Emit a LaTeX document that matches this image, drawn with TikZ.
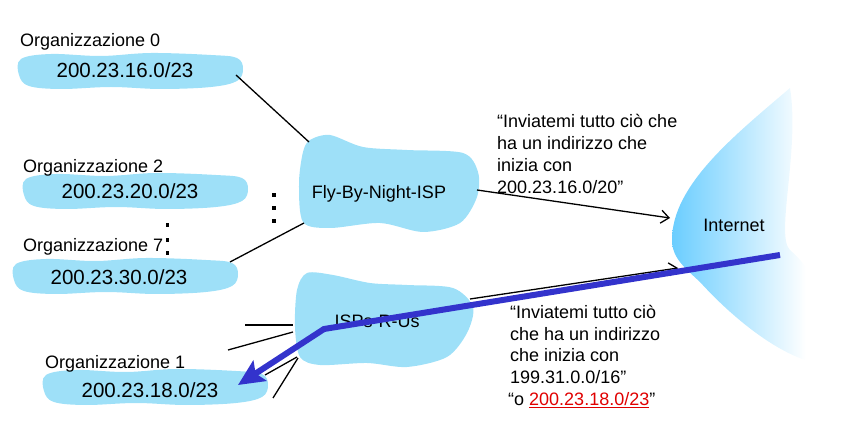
\documentclass[tikz,border=0pt]{standalone}
\usepackage{fontspec}
\setmainfont{Liberation Sans}
\usetikzlibrary{arrows.meta}
\definecolor{blobblue}{RGB}{158,224,248}
\definecolor{netblue}{RGB}{102,204,255}
\definecolor{routeblue}{RGB}{51,51,204}
\definecolor{ispred}{RGB}{224,0,0}
\tikzset{
  blob/.style={fill=blobblue, draw=none},
  orgpatch/.pic={\fill[blob] plot[smooth cycle, tension=0.6] coordinates {(-110,-12) (-80,-17) (-30,-15) (20,-18) (80,-16) (106,-13) (112,-2) (106,10) (80,16) (30,18) (-20,16) (-70,18) (-102,15) (-112,4)};},
  lbl/.style={font=\fontsize{18}{22}\selectfont, inner sep=0pt},
  addr/.style={font=\fontsize{20.5}{24}\selectfont, inner sep=0pt, anchor=base},
  link/.style={black, line width=1.3pt},
}
\begin{document}
\begin{tikzpicture}[x=1pt,y=-1pt]
                \useasboundingbox (0,0) rectangle (857,430);
                % organisations
                \pic at (131,71) {orgpatch};
                \pic at (136,191) {orgpatch};
                \pic at (126,276) {orgpatch};
                \pic at (156,387) {orgpatch};
                % ISPs
                \fill [blob] plot[smooth cycle] coordinates {(310,140) (330,135) (363,147) (407,150) (463,153) (478,172) (477,197) (460,223) (423,232) (380,223) (330,228) (303,222) (299,183) (303,152)};
                \fill [blob] plot[smooth cycle] coordinates {(307,273) (333,275) (370,283) (407,285) (453,288) (473,307) (467,333) (447,357) (407,367) (367,363) (320,365) (300,357) (295,327) (297,290)};
                \coordinate (o0) at (236,75);
                \coordinate (fbnA) at (309,142);
                \coordinate (o7) at (230,262);
                \coordinate (fbnB) at (304,223);
                \coordinate (fbnC) at (477,190);
                \coordinate (netA) at (670,218);
                \coordinate (rusA) at (470,299);
                \coordinate (netB) at (678,268);
                \coordinate (netC) at (780,255);
                \coordinate (rusB) at (324,329);
                \coordinate (o1) at (238,385);
                \draw [link] (o0) -- (fbnA);
                \draw [link] (o7) -- (fbnB);
                \draw [link, -{Straight Barb[length=8pt,width=13pt]}] (fbnC) -- (netA);
                \draw [link, -{Straight Barb[length=8pt,width=13pt]}] (rusA) -- (netB);
                \draw [link] (245,325) -- (293,325);
                \draw [link] (228,350) -- (293,332);
                \draw [link] (265,375) -- (297,357);
                \draw [link] (273,398) -- (298,358);
                % dots
                \fill (272,193) rectangle ++(3.5,4);
                \fill (272,206) rectangle ++(3.5,4);
                \fill (272,219) rectangle ++(3.5,4);
                \fill (165.5,223) rectangle ++(3.5,4);
                \fill (165.5,238) rectangle ++(3.5,4);
                \fill (165.5,251) rectangle ++(3.5,4);
                % Internet
                \begin{scope}
                \clip (790,88) .. controls (735,135) and (672,185) .. (672,240) .. controls (672,258) and (685,268) .. (700,282) .. controls (730,315) and (770,348) .. (805,360) .. controls (822,320) and (830,285) .. (790,250) .. controls (775,236) and (800,150) .. (790,88);
                \shade [left color=netblue, middle color=netblue!55!white, right color=white] (668,80) rectangle (806,370);
                \end{scope}
                % texts
                \node [lbl, anchor=base west] (org0) at (20,47) {Organizzazione 0};
                \node [addr] (net0) at (125,78) {200.23.16.0/23};
                \node [lbl, anchor=base west] (org2) at (23,173) {Organizzazione 2};
                \node [addr] (net2) at (130,199) {200.23.20.0/23};
                \node [lbl, anchor=base west] (org7) at (23,252) {Organizzazione 7};
                \node [addr] (net7) at (119,285) {200.23.30.0/23};
                \node [lbl, anchor=base west] (org1) at (45,368) {Organizzazione 1};
                \node [addr] (net1) at (150,397) {200.23.18.0/23};
                \node [lbl, anchor=base] (fbn) at (379,199) {Fly-By-Night-ISP};
                \node [lbl, anchor=base] (rus) at (377,327) {ISPs-R-Us};
                \node [lbl, anchor=base] (inet) at (734,232) {Internet};
                \node [lbl, anchor=north west, align=left] (adv1) at (497,114) {“Inviatemi tutto ciò che\\ha un indirizzo che\\inizia con\\200.23.16.0/20”};
                \node [lbl, anchor=north west, align=left, font=\fontsize{18}{21.7}\selectfont] (adv2) at (510,305) {“Inviatemi tutto ciò\\che ha un indirizzo\\che inizia con\\199.31.0.0/16”\\\hspace*{-2pt}“o \textcolor{ispred}{\underline{200.23.18.0/23}}”};
                % route
                \draw [routeblue, line width=6pt, -{Stealth[length=26pt,width=24pt,inset=5pt]}] (netC) -- (rusB) -- (o1);
\end{tikzpicture}
\end{document}
